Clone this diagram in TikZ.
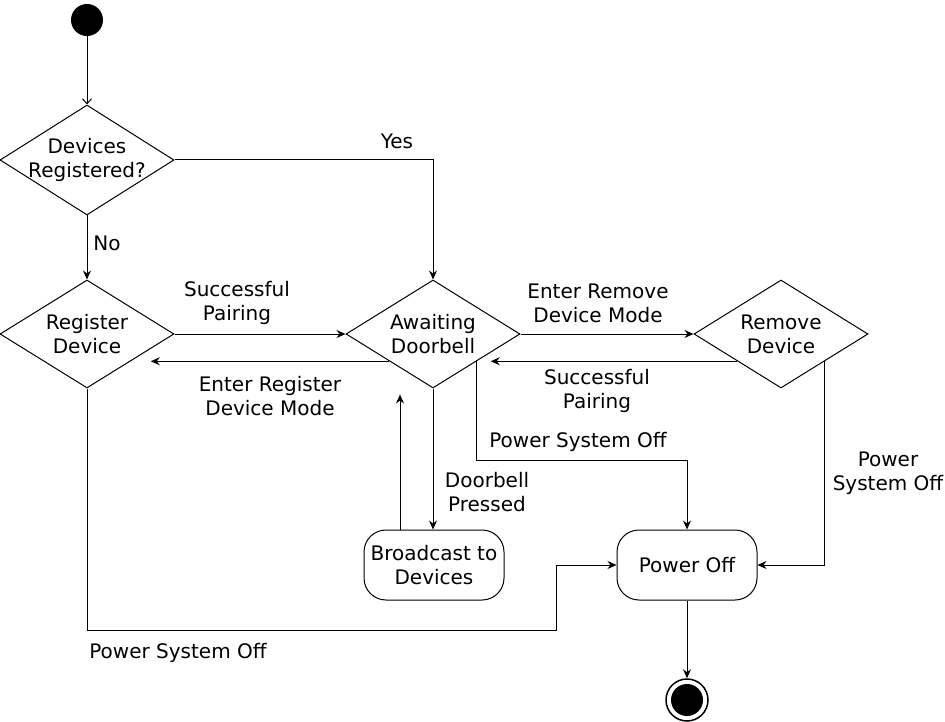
\documentclass[tikz,border=0pt]{standalone}
\usepackage{fontspec}
\setmainfont{DejaVu Sans}
\usetikzlibrary{positioning, shapes.geometric, arrows.meta}
\tikzset{
    %Define style for decisions
    decision/.style={
           diamond,
           draw=black, line width=1pt,
           minimum width=174pt,
           minimum height=108pt,
           inner sep=0pt},
 %
    statebox/.style={
           rectangle,
           rounded corners=22pt,
           draw=black, line width=1pt,
           minimum width=140pt,
           minimum height=70pt,
           align=center},
 %
    initstate/.style={
           circle,
           fill=black,
           minimum size=32pt,
           inner sep=0pt},
 %
    finalstate/.style={
           circle,
           draw=black, line width=1.5pt,
           minimum size=42pt,
           inner sep=0pt,
           path picture={\fill (path picture bounding box.center) circle (16pt);}},
 %
    lbl/.style={
           align=center,
           inner sep=0pt},
%
    % Define arrow style
    arrow/.style={
           -{Stealth[length=9pt,width=8pt,inset=3pt]},
           line width=1pt},
    openarrow/.style={
           -{Straight Barb[length=5pt,width=9pt]},
           line width=1pt}
}

\begin{document}
\begin{tikzpicture}[x=1pt,y=-1pt,
  every node/.style={font=\fontsize{20pt}{24pt}\selectfont}]
  \useasboundingbox (0,0) rectangle (945,722);

  % states and decisions
  \node[initstate] (start) at (87,20) {};
  \node[decision, minimum height=110pt,
        label={[lbl]center:Devices\\Registered?}] (devreg) at (87,160) {};
  \node[decision, label={[lbl]center:Register\\Device}] (regdev) at (87,334) {};
  \node[decision, label={[lbl]center:Awaiting\\Doorbell}] (await) at (433,334) {};
  \node[decision, label={[lbl]center:Remove\\Device}] (remove) at (781,334) {};
  \node[statebox] (broadcast) at (434,565) {Broadcast to\\Devices};
  \node[statebox] (poweroff) at (687,565) {Power Off};
  \node[finalstate] (end) at (687,700) {};
  \coordinate (bendoff) at (556,630);

  % transitions
  \draw[openarrow] (start) -- (devreg.north);
  \draw[arrow] (devreg.east) -| (await.north);
  \draw[arrow] (devreg.south) -- (regdev.north);
  \draw[arrow] (regdev.east) -- (await.west);
  \draw[arrow, shorten >=20pt] (await.south west) -- (regdev.south east);
  \draw[arrow] (await.east) -- (remove.west);
  \draw[arrow, shorten >=14pt] (remove.south west) -- (await.south east);
  \draw[arrow] (await.south) -- (await.south |- broadcast.north);
  \draw[arrow, shorten >=6pt] ([xshift=-34pt]broadcast.north)
        -- ([xshift=-34pt]broadcast.north |- await.south);
  \draw[arrow] (await.south east) -- ++(0,99) -| (poweroff.north);
  \draw[arrow] (remove.south east) |- (poweroff.east);
  \draw[arrow] (regdev.south) |- (bendoff) |- (poweroff.west);
  \draw[arrow] (poweroff.south) -- (end);

  % transition labels
  \node[lbl] (yes) at (397,141) {Yes};
  \node[lbl] (no) at (107,243) {No};
  \node[lbl] (pairleft) at (237,303) {Successful\\Pairing};
  \node[lbl] (enterreg) at (270,396) {Enter Register\\Device Mode};
  \node[lbl] (enterrem) at (598,303) {Enter Remove\\Device Mode};
  \node[lbl] (pairright) at (597,391) {Successful\\Pairing};
  \node[lbl] (offmid) at (578,442) {Power System Off};
  \node[lbl] (pressed) at (487,492) {Doorbell\\Pressed};
  \node[lbl] (offright) at (888,473) {Power\\System Off};
  \node[lbl] (offbottom) at (178,653) {Power System Off};
\end{tikzpicture}
\end{document}
